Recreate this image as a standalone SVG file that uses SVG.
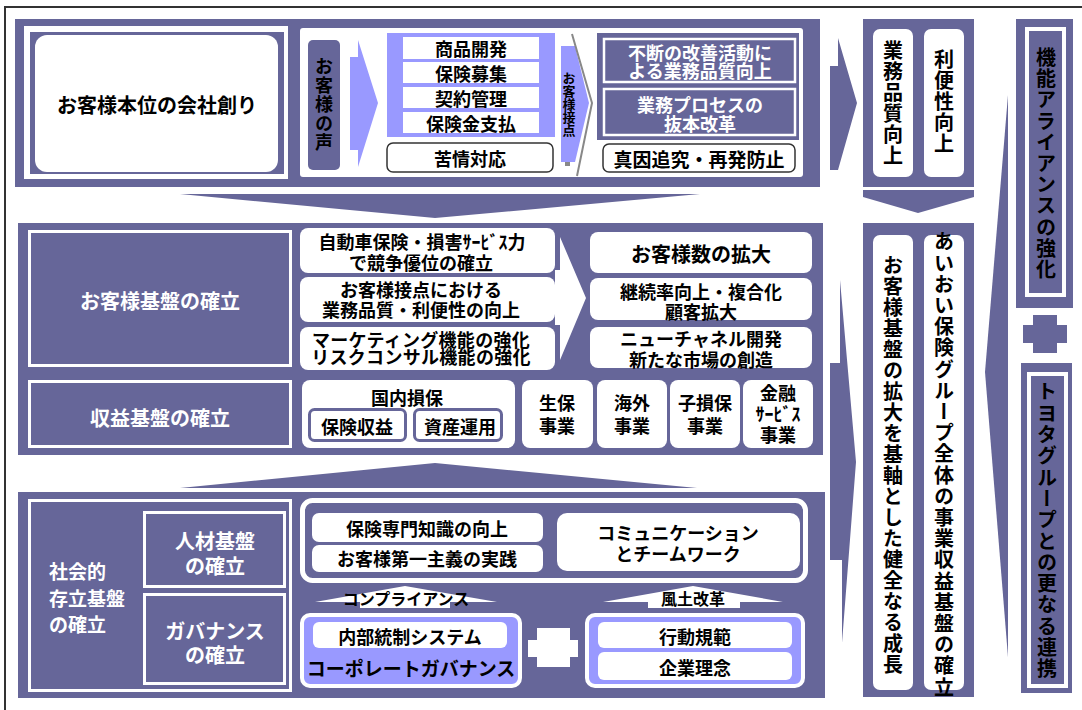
<svg xmlns="http://www.w3.org/2000/svg" width="1082" height="710" viewBox="0 0 1082 710">
<style>
.p{fill:#666699}
.lav{fill:#9999ff}
.w{fill:#fff}
.ws{fill:none;stroke:#fff;stroke-width:3}
.ol{fill:#fff;stroke:#333;stroke-width:1.5}
.t{font-family:"Noto Sans CJK JP","Noto Sans CJK SC",sans-serif;font-weight:bold;text-anchor:middle;dominant-baseline:central;fill:#000}
.tw{fill:#fff}
.v{font-family:"Noto Sans CJK JP","Noto Sans CJK SC",sans-serif;font-weight:bold;text-anchor:middle;writing-mode:vertical-rl;fill:#000}
.s17{font-size:17px}
.s18{font-size:18px}
.s20{font-size:20px}
</style>
<rect width="1082" height="710" fill="#fff"/>
<path d="M5,710 V7 H1082" fill="none" stroke="#333" stroke-width="2"/>

<g id="sections">
<rect x="15" y="19" width="805" height="168" class="p"/>
<rect x="300" y="28" width="503" height="149" rx="3" class="w"/>
<rect x="18" y="223" width="805" height="232" class="p"/>
<rect x="18" y="492" width="807" height="206" class="p"/>
</g>

<g id="connectors">
<polygon points="180,194 700,194 435,218" class="p"/>
<polygon points="180,488 697,488 435,463" class="p"/>
<polygon points="350,57 358,57 358,40 378,103 358,167 358,150 350,150" class="lav"/>
<polygon points="561,46 575,46 589,103 575,162 561,162" class="lav"/>
<polyline points="572,34 592,103 577,176" fill="none" stroke="#888" stroke-width="2"/>
<rect x="565" y="162" width="5" height="4" fill="#888"/>
<polygon points="830,66 838,66 838,38 857,103 838,170 830,170" class="p"/>
<polygon points="555,270 560,270 560,237 586,298 560,360 560,325 555,325" class="w"/>
<polygon points="830,363 840,363 840,280 856,462 842,643 842,560 830,560" class="p"/>
<polygon points="863,190 974,190 974,197 918,213 863,197" class="p"/>
<polygon points="1008,95 1008,657 985,372" class="p"/>
<path d="M1033,315 H1057 V325 H1067 V343 H1057 V353 H1033 V343 H1023 V325 H1033 Z" class="p"/>
<polygon points="315,602 405,586 497,602 450,602 450,608 360,608 360,602" class="w"/>
<text class="t" x="406" y="598" style="font-size:16px">コンプライアンス</text>
<polygon points="603,602 693,586 783,602 740,602 740,608 648,608 648,602" class="w"/>
<text class="t" x="693" y="598" style="font-size:16px">風土改革</text>
<path d="M537,628 H570 V640 H578 V657 H570 V667 H537 V657 H528 V640 H537 Z" class="w"/>
</g>

<g id="n-honi">
<rect x="24" y="26" width="264" height="153" class="w"/>
<rect x="30" y="32" width="254" height="142" class="p"/>
<rect x="35" y="35" width="243" height="137" rx="12" class="w"/>
<text class="t s20" x="157" y="104">お客様本位の会社創り</text>
</g>

<g id="n-koe">
<rect x="308" y="40" width="32" height="130" rx="5" class="p"/>
<text class="v tw s18" x="324" y="105" style="letter-spacing:1px">お客様の声</text>
</g>

<g id="n-gyomu">
<rect x="387" y="33" width="168" height="104" class="lav"/>
<rect x="403" y="37" width="136" height="22" class="w"/>
<rect x="403" y="62" width="136" height="21" class="w"/>
<rect x="403" y="87" width="136" height="21" class="w"/>
<rect x="403" y="112" width="136" height="21" class="w"/>
<text class="t s18" x="471" y="48">商品開発</text>
<text class="t s18" x="471" y="72.5">保険募集</text>
<text class="t s18" x="471" y="97.5">契約管理</text>
<text class="t s18" x="471" y="122.5">保険金支払</text>
</g>

<g id="n-kujo">
<rect x="387" y="143" width="166" height="29" rx="6" class="ol"/>
<text class="t s18" x="470" y="157.5">苦情対応</text>
</g>

<g id="n-setten">
<text class="v" x="569" y="104" style="font-size:13px">お客様接点</text>
</g>

<g id="n-kaizen">
<rect x="597" y="33" width="202" height="107" class="p"/>
<rect x="604" y="39" width="191" height="43" class="ws" style="stroke-width:2.5"/>
<text class="t tw s18" x="700" y="51.5">不断の改善活動に</text>
<text class="t tw s18" x="700" y="70">よる業務品質向上</text>
<rect x="604" y="89" width="191" height="46" class="ws" style="stroke-width:2.5"/>
<text class="t tw s18" x="700" y="104">業務プロセスの</text>
<text class="t tw s18" x="700" y="123">抜本改革</text>
</g>

<g id="n-shinin">
<rect x="603" y="144" width="192" height="28" rx="6" class="ol"/>
<text class="t" x="699" y="158" style="font-size:19px">真因追究・再発防止</text>
</g>

<g id="n-col1">
<rect x="863" y="19" width="111" height="168" class="p"/>
<rect x="873" y="29" width="40" height="148" rx="7" class="w"/>
<rect x="924" y="29" width="40" height="148" rx="7" class="w"/>
<text class="v s20" x="893" y="103" style="letter-spacing:1px">業務品質向上</text>
<text class="v s20" x="944" y="102" style="letter-spacing:1px">利便性向上</text>
</g>

<g id="n-col2">
<rect x="863" y="223" width="111" height="474" class="p"/>
<rect x="873" y="235" width="40" height="455" rx="7" class="w"/>
<rect x="924" y="235" width="40" height="455" rx="7" class="w"/>
<text class="v s20" x="893" y="465" style="letter-spacing:1px">お客様基盤の拡大を基軸とした健全なる成長</text>
<text class="v s20" x="944" y="465" style="letter-spacing:1.2px">あいおい保険グループ全体の事業収益基盤の確立</text>
</g>

<g id="n-alliance">
<rect x="1016" y="19" width="57" height="289" class="p"/>
<rect x="1027" y="29" width="37" height="266" class="ws" style="stroke-width:4"/>
<text class="v tw s20" x="1046" y="164" style="letter-spacing:1.2px">機能アライアンスの強化</text>
</g>

<g id="n-toyota">
<rect x="1021" y="363" width="51" height="330" class="p"/>
<rect x="1029" y="374" width="37" height="312" class="ws" style="stroke-width:4"/>
<text class="v tw s20" x="1047" y="531" style="letter-spacing:1.3px">トヨタグループとの更なる連携</text>
</g>

<g id="n-kyaku-kiban">
<rect x="29.5" y="231.5" width="261" height="134" class="ws"/>
<text class="t tw s20" x="160" y="300">お客様基盤の確立</text>
</g>

<g id="n-shueki-kiban">
<rect x="29.5" y="381.5" width="261" height="65" class="ws"/>
<text class="t tw s20" x="160" y="417">収益基盤の確立</text>
</g>

<g id="n-jidosha">
<rect x="300" y="228" width="255" height="45" rx="8" class="w"/>
<text class="t s18" x="422" y="241">自動車保険・損害ｻｰﾋﾞｽ力</text>
<text class="t s18" x="421" y="262">で競争優位の確立</text>
</g>
<g id="n-setten-hinshitsu">
<rect x="300" y="277" width="255" height="45" rx="8" class="w"/>
<text class="t s18" x="421" y="289">お客様接点における</text>
<text class="t s18" x="421" y="309">業務品質・利便性の向上</text>
</g>
<g id="n-marketing">
<rect x="300" y="327" width="255" height="43" rx="8" class="w"/>
<text class="t" x="421" y="339" style="font-size:18px;letter-spacing:0.3px">マーケティング機能の強化</text>
<text class="t" x="421" y="356" style="font-size:18px;letter-spacing:0.3px">リスクコンサル機能の強化</text>
</g>

<g id="n-kyakusu">
<rect x="590" y="232" width="222" height="41" rx="8" class="w"/>
<text class="t s20" x="701" y="253">お客様数の拡大</text>
</g>
<g id="n-keizoku">
<rect x="590" y="278" width="222" height="42" rx="8" class="w"/>
<text class="t s18" x="701" y="291">継続率向上・複合化</text>
<text class="t s18" x="701" y="311">顧客拡大</text>
</g>
<g id="n-newchannel">
<rect x="590" y="327" width="222" height="41" rx="8" class="w"/>
<text class="t s18" x="701" y="338">ニューチャネル開発</text>
<text class="t s18" x="701" y="359">新たな市場の創造</text>
</g>

<g id="n-kokunai">
<rect x="302" y="380" width="213" height="68" rx="8" class="w"/>
<text class="t s18" x="407" y="397">国内損保</text>
<rect x="309.5" y="409.5" width="96" height="31" rx="5" fill="#fff" stroke="#666699" stroke-width="3"/>
<text class="t s18" x="357" y="426">保険収益</text>
<rect x="414.5" y="409.5" width="87" height="31" rx="5" fill="#fff" stroke="#666699" stroke-width="3"/>
<text class="t s18" x="460" y="426">資産運用</text>
</g>
<g id="n-seiho">
<rect x="522" y="380" width="71" height="68" rx="8" class="w"/>
<text class="t s18" x="557" y="402">生保</text>
<text class="t s18" x="557" y="425">事業</text>
</g>
<g id="n-kaigai">
<rect x="597" y="380" width="70" height="68" rx="8" class="w"/>
<text class="t s18" x="632" y="402">海外</text>
<text class="t s18" x="632" y="425">事業</text>
</g>
<g id="n-kosonpo">
<rect x="670" y="380" width="70" height="68" rx="8" class="w"/>
<text class="t s18" x="705" y="402">子損保</text>
<text class="t s18" x="705" y="425">事業</text>
</g>
<g id="n-kinyu">
<rect x="743" y="380" width="70" height="68" rx="8" class="w"/>
<text class="t s18" x="778" y="392">金融</text>
<text class="t s18" x="778" y="413">ｻｰﾋﾞｽ</text>
<text class="t s18" x="778" y="434">事業</text>
</g>

<g id="n-shakai">
<rect x="29.5" y="500.5" width="261" height="190" class="ws"/>
<text class="t tw" x="49" y="570" style="font-size:19px;text-anchor:start">社会的</text>
<text class="t tw" x="49" y="597" style="font-size:19px;text-anchor:start">存立基盤</text>
<text class="t tw" x="49" y="623" style="font-size:19px;text-anchor:start">の確立</text>
</g>
<g id="n-jinzai">
<rect x="144.5" y="512.5" width="140" height="74" class="ws"/>
<text class="t tw s20" x="215" y="540">人材基盤</text>
<text class="t tw s20" x="215" y="565">の確立</text>
</g>
<g id="n-governance">
<rect x="144.5" y="594.5" width="140" height="89" class="ws"/>
<text class="t tw s20" x="215" y="630">ガバナンス</text>
<text class="t tw s20" x="215" y="654">の確立</text>
</g>

<g id="n-jinzai-detail">
<rect x="302.5" y="500.5" width="503" height="80" rx="10" class="ws" style="stroke-width:5"/>
<rect x="312" y="513" width="231" height="29" rx="7" class="w"/>
<text class="t s18" x="427" y="528">保険専門知識の向上</text>
<rect x="312" y="545" width="231" height="27" rx="7" class="w"/>
<text class="t s18" x="427" y="558">お客様第一主義の実践</text>
<rect x="557" y="513" width="243" height="58" rx="10" class="w"/>
<text class="t s18" x="678" y="532">コミュニケーション</text>
<text class="t s18" x="678" y="553">とチームワーク</text>
</g>

<g id="n-naibu">
<rect x="302" y="615" width="218" height="71" rx="8" class="lav" stroke="#fff" stroke-width="4"/>
<rect x="313" y="622" width="194" height="26" rx="6" class="w"/>
<text class="t s18" x="410" y="636">内部統制システム</text>
<text class="t" x="411" y="667" style="font-size:19px">コーポレートガバナンス</text>
</g>

<g id="n-kodo">
<rect x="587" y="615" width="216" height="71" rx="8" class="lav" stroke="#fff" stroke-width="4"/>
<rect x="598" y="622" width="194" height="26" rx="6" class="w"/>
<text class="t s18" x="695" y="636">行動規範</text>
<rect x="598" y="652" width="194" height="28" rx="6" class="w"/>
<text class="t s18" x="695" y="667">企業理念</text>
</g>
</svg>
